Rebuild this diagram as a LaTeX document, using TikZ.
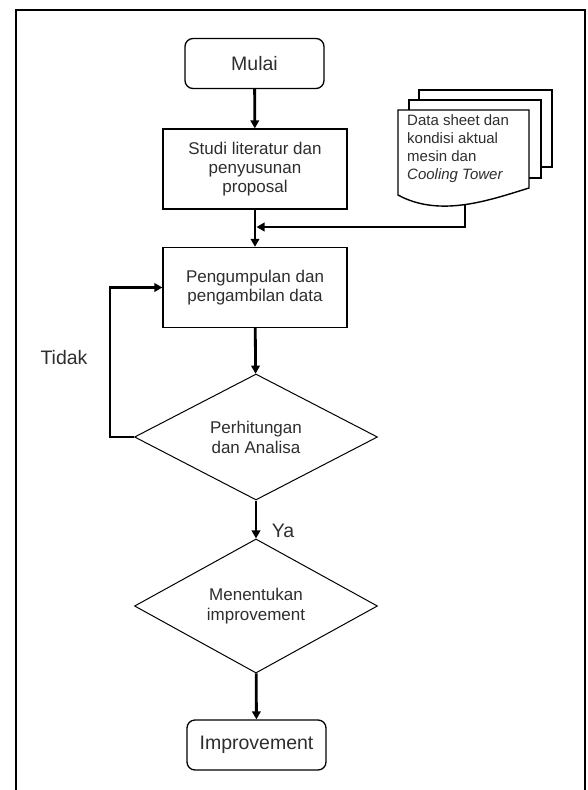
\documentclass[tikz,border=0pt]{standalone}
\usepackage{fontspec}
\setmainfont{Liberation Sans}
\usetikzlibrary{shapes.geometric,arrows.meta}
\begin{document}
\begin{tikzpicture}[x=1pt,y=-1pt,
  every node/.style={text=black!82},
  proc/.style={draw=black, line width=1.3pt, minimum width=184pt, minimum height=80pt,
    align=center, inner sep=0pt, font=\fontsize{17}{19}\selectfont},
  term/.style={draw=black, rounded corners=8pt, line width=1.3pt, minimum width=139pt,
    minimum height=50pt, inner sep=0pt, font=\fontsize{19.5}{22}\selectfont},
  dec/.style={draw=black, diamond, line width=1pt, minimum width=243pt, minimum height=126pt,
    align=center, inner sep=0pt, font=\fontsize{17}{20}\selectfont},
  arr/.style={draw=black, line width=2.8pt, -{Triangle[length=8pt,width=8.5pt]}},
  page/.style={draw=black, line width=1.4pt, fill=white},
  lbl/.style={font=\fontsize{19.5}{22}\selectfont}
]
\useasboundingbox (0,0) rectangle (587,790);
\fill[white] (0,0) rectangle (587,790);
% frame
\draw[line width=2pt] (16,790) -- (16,10) -- (585,10) -- (585,790);

% nodes
\node[term] (mulai) at (254.5,63.5) {Mulai};
\node[proc] (studi) at (255,169) {Studi literatur dan\\penyusunan\\proposal};
\node[proc] (peng) at (255,287.5) {Pengumpulan dan\\pengambilan data};
\node[dec] (d1) at (256,437) {Perhitungan\\dan Analisa};
\node[dec] (d2) at (256,606) {Menentukan\\improvement};
\node[term] (impr) at (256.5,745) {Improvement};

% document stack
\draw[page] (419,90) rectangle (552,167);
\draw[page] (409,100) rectangle (541,178);
\draw[page] (398,195) -- (398,110) -- (529,110) -- (529,188)
   .. controls (490,200) and (440,218) .. (398,195) -- cycle;
\node[anchor=north west, inner sep=0pt, align=left,
      font=\fontsize{15}{18}\selectfont] (doctext) at (407,114)
   {Data sheet dan\\kondisi aktual\\mesin dan\\\textit{Cooling Tower}};
\coordinate (docb) at (465,204.5);
\coordinate (join) at (256.5,227);

% connectors
\draw[arr] (mulai) -- (studi);
\draw[arr] (studi) -- (peng);
\draw[arr] (docb) |- (join);
\draw[arr] (peng) -- (d1);
\draw[arr] (d1.west) -- ++(-24,0) |- (peng.west);
\draw[arr] (d1) -- (d2);
\draw[arr] (d2) -- (impr);

% labels
\node[lbl] (tidak) at (64,358) {Tidak};
\node[lbl] (ya) at (283,531) {Ya};
\end{tikzpicture}
\end{document}
